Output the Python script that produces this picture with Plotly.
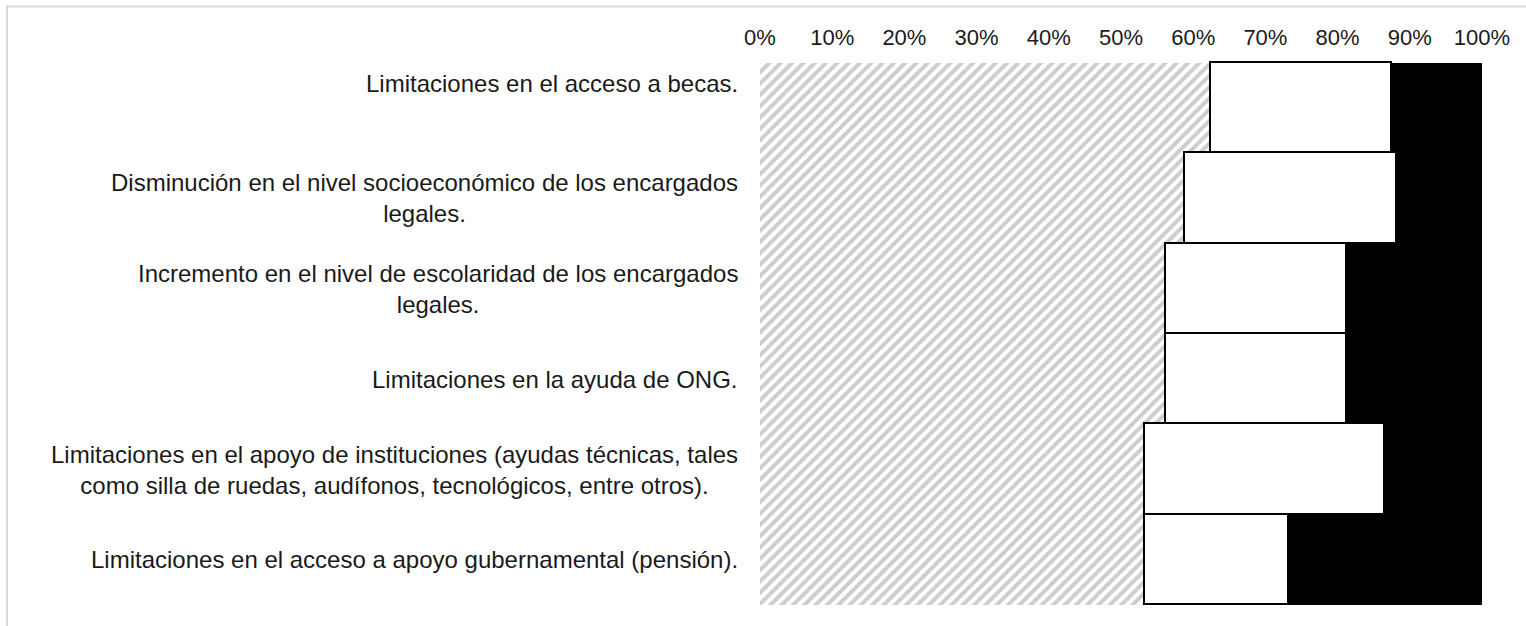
import plotly.graph_objects as go

# Survey items, top to bottom
categories = [
    "Limitaciones en el acceso a becas.",
    "Disminución en el nivel socioeconómico de los encargados<br>legales.",
    "Incremento en el nivel de escolaridad de los encargados<br>legales.",
    "Limitaciones en la ayuda de ONG.",
    "Limitaciones en el apoyo de instituciones (ayudas técnicas, tales<br>como silla de ruedas, audífonos, tecnológicos, entre otros).",
    "Limitaciones en el acceso a apoyo gubernamental (pensión).",
]

# Percent shares per response group
hatched_pct = [62.5, 58.8, 56.25, 56.25, 53.3, 53.3]
white_pct = [25.0, 29.4, 25.0, 25.0, 33.3, 20.0]
black_pct = [12.5, 11.8, 18.75, 18.75, 13.4, 26.7]

tick_vals = [0, 10, 20, 30, 40, 50, 60, 70, 80, 90, 100]
tick_text = [f"{v}%" for v in tick_vals]

y_idx = list(range(len(categories)))
FONT = "Liberation Sans, Arial, sans-serif"

fig = go.Figure()
fig.add_trace(go.Bar(
    y=y_idx, x=hatched_pct, orientation="h",
    marker=dict(
        color="white",
        line=dict(width=0),
        pattern=dict(shape="/", fgcolor="#9c9c9c", bgcolor="white", size=8, solidity=0.5),
    ),
    showlegend=False,
))
fig.add_trace(go.Bar(
    y=y_idx, x=white_pct, orientation="h",
    marker=dict(color="white", line=dict(color="black", width=1.6)),
    showlegend=False,
))
fig.add_trace(go.Bar(
    y=y_idx, x=black_pct, orientation="h",
    marker=dict(color="black", line=dict(width=0)),
    showlegend=False,
))

# Category labels: right-aligned block, wrapped lines centred
for i, label in enumerate(categories):
    fig.add_annotation(
        x=0, xref="paper", xanchor="right", xshift=-20,
        y=i, yref="y", yanchor="middle", yshift=25 if i == 0 else 0,
        text=label, align="center", showarrow=False,
        font=dict(family=FONT, size=24, color="#1a1a1a"),
    )

# Light outer frame
fig.add_shape(
    type="rect", xref="paper", yref="paper",
    x0=-1.043, x1=1.08, y0=-0.06, y1=1.1,
    line=dict(color="#d9d9d9", width=2), fillcolor="rgba(0,0,0,0)", layer="below",
)

fig.update_layout(
    width=1526, height=626,
    margin=dict(l=760, r=44, t=61, b=19),
    barmode="stack", bargap=0,
    plot_bgcolor="white", paper_bgcolor="white",
    xaxis=dict(
        side="top", range=[0, 100], tickvals=tick_vals, ticktext=tick_text,
        showgrid=False, zeroline=False, showline=False,
        ticks="outside", ticklen=6, tickcolor="rgba(0,0,0,0)",
        tickfont=dict(family=FONT, size=22, color="#1a1a1a"),
        fixedrange=True,
    ),
    yaxis=dict(
        range=[5.52, -0.52], showticklabels=False, showgrid=False, zeroline=False,
        showline=False, ticks="",
        fixedrange=True,
    ),
)

# Faint left edge of the value axis, spanning the bars only
fig.add_shape(
    type="line", xref="x", yref="y", x0=0, x1=0, y0=-0.5, y1=5.5,
    line=dict(color="#d9d9d9", width=1), layer="below",
)

fig.write_html("out.html")
